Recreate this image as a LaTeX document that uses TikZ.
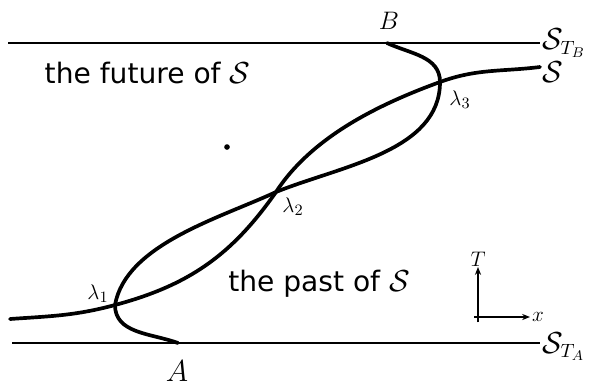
\documentclass[tikz,border=0pt]{standalone}
\usepackage{amsmath,amssymb}
\usepackage{fontspec}
\setmainfont{DejaVu Sans}
\usepackage{tikz}
\usetikzlibrary{arrows.meta,positioning}

\begin{document}
\begin{tikzpicture}[>={Stealth[length=4.5pt,width=3.5pt]},
  slice/.style={line width=1.6pt},
  curve/.style={line width=2.1pt,line cap=round},
  axis/.style={line width=0.7pt},
  big/.style={font=\fontsize{16}{19}\selectfont,inner sep=1pt},
  lab/.style={font=\fontsize{13}{15}\selectfont,inner sep=1pt}]
\useasboundingbox (0,0) rectangle (11.78,7.78);

% ---------- the two slices T = T_B and T = T_A ----------
\coordinate (TBl) at (0.16,6.92);
\coordinate (TBr) at (10.8,6.92);
\coordinate (TAl) at (0.24,0.92);
\coordinate (TAr) at (10.8,0.92);
\draw[slice] (TBl)--(TBr);
\draw[slice] (TAl)--(TAr);
\node[big,anchor=west] (stb) at (TBr) {$\mathcal{S}_{T_B}$};
\node[big,anchor=west] (sta) at ([yshift=-2pt]TAr) {$\mathcal{S}_{T_A}$};

% ---------- points on the curves ----------
\coordinate (B) at (7.74,6.92);
\coordinate (A) at (3.56,0.92);
\coordinate (l1) at (2.3,1.68);
\coordinate (l2) at (5.52,3.94);
\coordinate (l3) at (8.8,6.14);
\coordinate (Sl) at (0.2,1.4);
\coordinate (Sr) at (10.8,6.44);

% ---------- the surface S and the curve from A to B ----------
\draw[curve] (Sl) to[out=4,in=195] (l1) to[out=15,in=235] (l2)
  to[out=57,in=200,looseness=0.85] (l3) to[out=20,in=187] (Sr);
\draw[curve] (B) to[out=-25,in=90] (l3) to[out=-90,in=22,looseness=0.9] (l2)
  to[out=205,in=80,looseness=0.8] (l1) to[out=-90,in=160] (A);

% ---------- labels ----------
\node[font=\fontsize{15}{17}\selectfont,inner sep=1pt] (bl) at (7.78,7.36) {$B$};
\node[font=\fontsize{16}{18}\selectfont,inner sep=1pt] (al) at (3.54,0.36) {$A$};
\node[lab] (l3l) at (9.2,5.78) {$\lambda_3$};
\node[lab] (l2l) at (5.86,3.64) {$\lambda_2$};
\node[lab] (l1l) at (1.96,1.9) {$\lambda_1$};
\node[big,anchor=west] (sl) at ([yshift=-3pt]Sr) {$\mathcal{S}$};
\node[big] (fut) at (2.95,6.32) {the future of $\mathcal{S}$};
\node[big] (pst) at (6.38,2.1) {the past of $\mathcal{S}$};
\fill (4.54,4.84) circle (1.6pt);

% ---------- axes ----------
\coordinate (o) at (9.56,1.44);
\coordinate (ty) at (9.56,2.44);
\coordinate (tx) at (10.6,1.44);
\draw[axis,->] ([yshift=-3pt]o)--(ty);
\draw[axis,->] ([xshift=-2pt]o)--(tx);
\node[lab,above=-1pt of ty] (tl) {$T$};
\node[lab,right=0pt of tx] (xl) {$x$};
\end{tikzpicture}
\end{document}
